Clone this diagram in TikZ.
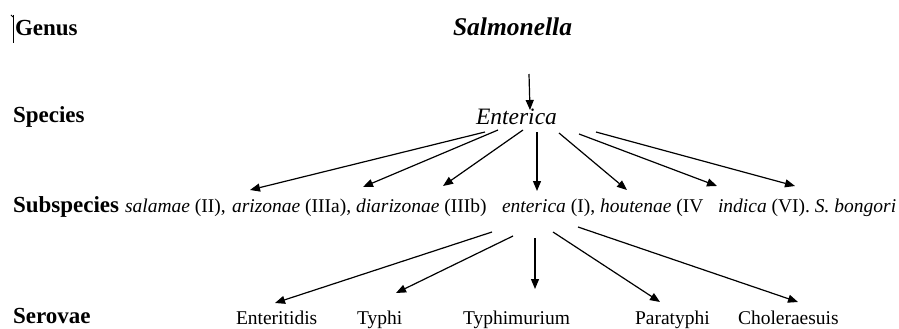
\documentclass[tikz,border=0pt]{standalone}
\usepackage{fontspec}
\setmainfont{Liberation Serif}
\usetikzlibrary{arrows.meta}
\begin{document}
\begin{tikzpicture}[x=1pt,y=-1pt,
  every node/.style={inner sep=0pt,outer sep=0pt,anchor=base west},
  rank/.style={font=\fontsize{23}{26}\selectfont\bfseries},
  taxon/.style={font=\fontsize{19.5}{22}\selectfont},
  genusname/.style={font=\fontsize{25.5}{28}\selectfont\bfseries\itshape},
  speciesname/.style={font=\fontsize{23.5}{26}\selectfont\itshape},
  link/.style={line width=1.2pt,-{Triangle[length=10pt,width=8pt]}}]
\useasboundingbox (0,0) rectangle (899,329);

% text cursor beside the first rank label
\draw[line width=0.8pt] (13,15) -- (13,43);
\draw[line width=0.8pt] (11,15) -- (13,17);

% rank labels
\node[rank] (genus) at (15,36) {Genus};
\node[rank] (species) at (13,122) {Species};
\node[rank] (subspecies) at (13,212) {Subspecies};
\node[rank] (serovae) at (13,323) {Serovae};

% genus and species
\node[genusname] (salm) at (453,36) {Salmonella};
\node[speciesname] (ent) at (476,124) {Enterica};

% subspecies row
\node[taxon] (ssp1) at (125,212) {\textit{salamae} (II),};
\node[taxon] (ssp2) at (232,212) {\textit{arizonae} (IIIa),};
\node[taxon] (ssp3) at (356,212) {\textit{diarizonae} (IIIb)};
\node[taxon] (ssp4) at (502,212) {\textit{enterica} (I),};
\node[taxon] (ssp5) at (600,212) {\textit{houtenae} (IV};
\node[taxon] (ssp6) at (718,212) {\textit{indica} (VI). \textit{S. bongori}};

% serovars
\node[taxon] (sv1) at (236,324) {Enteritidis};
\node[taxon] (sv2) at (357,324) {Typhi};
\node[taxon] (sv3) at (463,324) {Typhimurium};
\node[taxon] (sv4) at (635,324) {Paratyphi};
\node[taxon] (sv5) at (738,324) {Choleraesuis};

% connector end points
\coordinate (g0) at (529,74);  \coordinate (g1) at (530,110);
\coordinate (a1) at (485,132); \coordinate (b1) at (250,190);
\coordinate (a2) at (498,130); \coordinate (b2) at (363,187);
\coordinate (a3) at (523,130); \coordinate (b3) at (443,186);
\coordinate (a4) at (537,132); \coordinate (b4) at (537,191);
\coordinate (a5) at (559,133); \coordinate (b5) at (627,190);
\coordinate (a6) at (579,134); \coordinate (b6) at (717,186);
\coordinate (a7) at (596,132); \coordinate (b7) at (795,186);
\coordinate (c1) at (492,232); \coordinate (d1) at (275,303);
\coordinate (c2) at (513,236); \coordinate (d2) at (396,293);
\coordinate (c3) at (535,238); \coordinate (d3) at (535,289);
\coordinate (c4) at (553,232); \coordinate (d4) at (660,302);
\coordinate (c5) at (578,227); \coordinate (d5) at (798,302);

% genus to species
\draw[link] (g0) -- (g1);
% species to subspecies
\foreach \i in {1,...,7} \draw[link] (a\i) -- (b\i);
% subspecies enterica to serovars
\foreach \i in {1,...,5} \draw[link] (c\i) -- (d\i);
\end{tikzpicture}
\end{document}
